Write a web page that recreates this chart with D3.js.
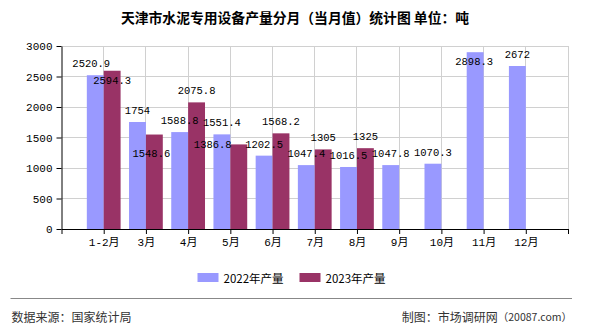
<!DOCTYPE html>
<html><head><meta charset="utf-8">
<script src="https://cdn.jsdelivr.net/npm/d3@7"></script>
<style>body{margin:0;background:#fff}svg{display:block}</style>
</head><body>
<svg id="chart" width="590" height="330"></svg>
<script>
const categories = ["1-2月","3月","4月","5月","6月","7月","8月","9月","10月","11月","12月"];
const values2022 = [2520.9,1754,1588.8,1551.4,1202.5,1047.4,1016.5,1047.8,1070.3,2898.3,2672];
const values2023 = [2594.3,1548.6,2075.8,1386.8,1568.2,1305,1325,null,null,null,null];
const yTicks = [0,500,1000,1500,2000,2500,3000];
const seriesNames = ["2022年产量","2023年产量"];
const seriesColors = ["#9999FF","#993366"];
const titleText = "天津市水泥专用设备产量分月（当月值）统计图 单位：吨";
const sourceText = "数据来源：国家统计局";
const makerText = "制图：市场调研网";
const makerSite = "（20087.com）";
// label placement nudges (px) for labels moved to avoid overlap
const labelNudge2022 = [[-4,0],[0,0],[0,0],[0,0],[0,0],[0,0],[0,0],[0,0],[0,0],[-1,20.5],[0,0]];
const labelNudge2023 = [[0,21],[-3,30],[0,0],[-26,11.5],[0,0],[0,0],[0,0],[0,0],[0,0],[0,0],[0,0]];

(function () {
const svg = d3.select("#chart");
const pLeft = 61.5, pRight = 568, pTop = 46, pBottom = 229;
const x = d3.scaleLinear().domain([-1, categories.length]).range([pLeft, pRight]);
const y = d3.scaleLinear().domain([0, 3000]).range([pBottom, pTop]);
const step = x(1) - x(0);
const barW = step * 0.4;
const crisp = v => Math.round(v - 0.5) + 0.5;
const numFont = "'Liberation Mono', 'Noto Sans CJK SC', monospace";
const cjkFont = "'Noto Sans CJK SC', sans-serif";

// title
svg.append("text").attr("x", 295).attr("y", 17).attr("text-anchor", "middle")
  .attr("dominant-baseline", "central").attr("font-family", cjkFont)
  .attr("font-size", 13.8).attr("font-weight", "bold").attr("fill", "#000").text(titleText);

// grid
const grid = svg.append("g").attr("stroke", "#d0d0d0").attr("stroke-width", 1);
grid.selectAll("line.h").data(yTicks.filter(t => t > 0)).join("line").attr("class", "h")
  .attr("x1", pLeft).attr("x2", pRight).attr("y1", d => crisp(y(d))).attr("y2", d => crisp(y(d)));
grid.selectAll("line.v").data(d3.range(0, categories.length + 1)).join("line").attr("class", "v")
  .attr("y1", pTop).attr("y2", pBottom).attr("x1", d => crisp(x(d))).attr("x2", d => crisp(x(d)));

// bars
const series = [values2022, values2023];
series.forEach((vals, s) => {
  svg.append("g").selectAll("rect").data(vals.map((v, i) => ({v, i})).filter(d => d.v != null)).join("rect")
    .attr("x", d => x(d.i) - barW + s * barW).attr("width", barW)
    .attr("y", d => y(d.v)).attr("height", d => y(0) - y(d.v))
    .attr("fill", seriesColors[s]);
});

// axes
const yAxis = svg.append("g").attr("transform", `translate(${pLeft},0)`)
  .call(d3.axisLeft(y).tickValues(yTicks).tickFormat(d3.format("d")).tickSize(5).tickSizeOuter(0).tickPadding(4));
const xAxis = svg.append("g").attr("transform", `translate(0,${pBottom})`)
  .call(d3.axisBottom(x).tickValues(d3.range(-1, categories.length + 1))
    .tickFormat(i => categories[i] || "").tickSize(5).tickSizeOuter(0).tickPadding(4));
[yAxis, xAxis].forEach(a => {
  a.select(".domain").attr("stroke", "#000");
  a.selectAll(".tick line").attr("stroke", "#000");
  a.selectAll("text").attr("font-family", numFont).attr("font-size", 11).attr("fill", "#000");
});

// data labels
const nudges = [labelNudge2022, labelNudge2023];
series.forEach((vals, s) => {
  svg.append("g").selectAll("text").data(vals.map((v, i) => ({v, i})).filter(d => d.v != null)).join("text")
    .attr("x", d => x(d.i) - barW / 2 + s * barW + nudges[s][d.i][0])
    .attr("y", d => y(d.v) - 8 + nudges[s][d.i][1])
    .attr("text-anchor", "middle").attr("font-family", numFont).attr("font-size", 10.5)
    .attr("fill", "#000").text(d => String(d.v));
});

// legend
const legendX = [197.5, 299.5];
seriesNames.forEach((name, s) => {
  svg.append("rect").attr("x", legendX[s]).attr("y", 273).attr("width", 21).attr("height", 9)
    .attr("fill", seriesColors[s]);
  svg.append("text").attr("x", legendX[s] + 26).attr("y", 277.5).attr("dominant-baseline", "central")
    .attr("font-family", cjkFont).attr("font-size", 11.5).attr("fill", "#000").text(name);
});

// footer
svg.append("line").attr("x1", 10.5).attr("x2", 572).attr("y1", 298.5).attr("y2", 298.5)
  .attr("stroke", "#888").attr("stroke-width", 1);
svg.append("text").attr("x", 11.5).attr("y", 316).attr("dominant-baseline", "central")
  .attr("font-family", cjkFont).attr("font-size", 12).attr("fill", "#333").text(sourceText);
const maker = svg.append("text").attr("x", 572).attr("y", 316).attr("dominant-baseline", "central")
  .attr("text-anchor", "end").attr("font-family", cjkFont).attr("font-size", 12).attr("fill", "#333");
maker.append("tspan").text(makerText);
maker.append("tspan").attr("font-size", 10.5).text(makerSite);
})();
</script>
</body></html>
